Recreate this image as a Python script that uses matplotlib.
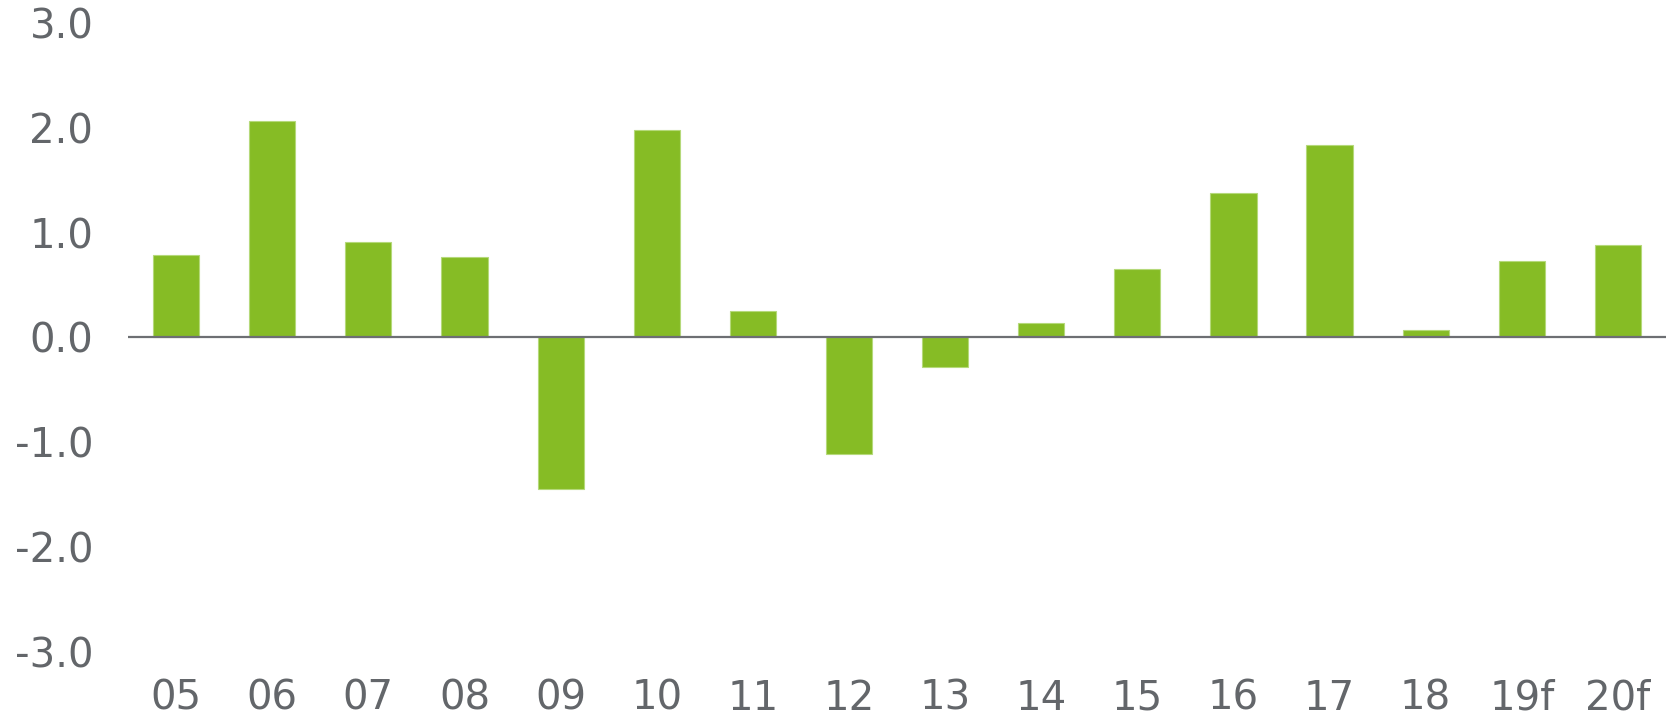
import matplotlib
matplotlib.use("Agg")
import matplotlib.pyplot as plt

# Data
years = ["05", "06", "07", "08", "09", "10", "11", "12",
         "13", "14", "15", "16", "17", "18", "19f", "20f"]
values = [0.79, 2.06, 0.91, 0.77, -1.44, 1.98, 0.25, -1.11,
          -0.28, 0.14, 0.65, 1.38, 1.83, 0.07, 0.73, 0.88]
yticks = [-3.0, -2.0, -1.0, 0.0, 1.0, 2.0, 3.0]

BAR_COLOR = "#86bc25"
TEXT_COLOR = "#63666a"
AXIS_COLOR = "#6d6f73"

plt.rcParams["font.family"] = ["DejaVu Sans"]

fig = plt.figure(figsize=(16.72, 7.22), dpi=100)
ax = fig.add_axes([0.0766, 0.0963, 0.9198, 0.8725])

x = list(range(len(years)))
ax.bar(x, values, width=0.48, color=BAR_COLOR, edgecolor="#b5d97a",
       linewidth=0.8, zorder=2)
ax.axhline(0, color=AXIS_COLOR, linewidth=1.6, zorder=3)

ax.set_xlim(-0.5, len(years) - 0.5)
ax.set_ylim(-3, 3)
ax.set_xticks(x)
ax.set_xticklabels(years)
ax.set_yticks(yticks)
ax.set_yticklabels([f"{v:.1f}" for v in yticks])
ax.tick_params(axis="both", length=0, labelsize=29, labelcolor=TEXT_COLOR)
# pads are in points (100 dpi -> 0.72 pt per pixel)
ax.tick_params(axis="y", pad=25)
ax.tick_params(axis="x", pad=19)

for s in ax.spines.values():
    s.set_visible(False)

fig.savefig("out.png", dpi=100)
